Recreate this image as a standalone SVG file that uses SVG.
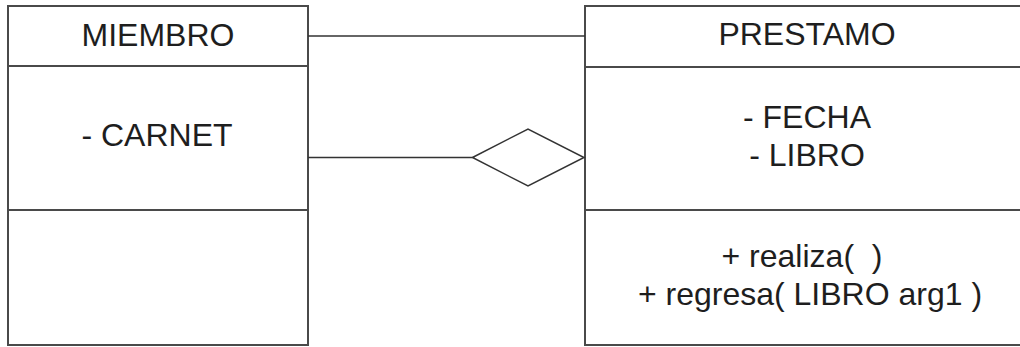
<svg xmlns="http://www.w3.org/2000/svg" width="1020" height="347" viewBox="0 0 1020 347">
<style>
.box{fill:#fff;stroke:#4a4a4a;stroke-width:2}
.div{stroke:#4a4a4a;stroke-width:2.2}
.conn{fill:none;stroke:#333;stroke-width:1.5}
.dia{fill:#fff;stroke:#333;stroke-width:1.5}
text{font-family:"Liberation Sans",Arial,sans-serif;font-size:32px;fill:#1e1e1e;text-anchor:middle}
</style>
<rect width="1020" height="347" fill="#fff"/>
<g id="miembro">
<rect class="box" x="8" y="6" width="300" height="339"/>
<line class="div" x1="8" y1="66" x2="308" y2="66"/>
<line class="div" x1="8" y1="210" x2="308" y2="210"/>
<text x="158" y="46">MIEMBRO</text>
<text x="157" y="146">- CARNET</text>
</g>
<g id="prestamo">
<rect class="box" x="585" y="6" width="450" height="339"/>
<line class="div" x1="585" y1="67" x2="1035" y2="67"/>
<line class="div" x1="585" y1="210" x2="1035" y2="210"/>
<text x="807" y="45">PRESTAMO</text>
<text x="807" y="128">- FECHA</text>
<text x="807" y="166">- LIBRO</text>
<text x="802" y="267" xml:space="preserve">+ realiza(  )</text>
<text x="810" y="305">+ regresa( LIBRO arg1 )</text>
</g>
<g id="connectors">
<line class="conn" x1="308" y1="36" x2="585" y2="36"/>
<line class="conn" x1="308" y1="157.5" x2="472.5" y2="157.5"/>
<polygon class="dia" points="472.5,157.5 528,129 584,157.5 528,186"/>
</g>
</svg>
